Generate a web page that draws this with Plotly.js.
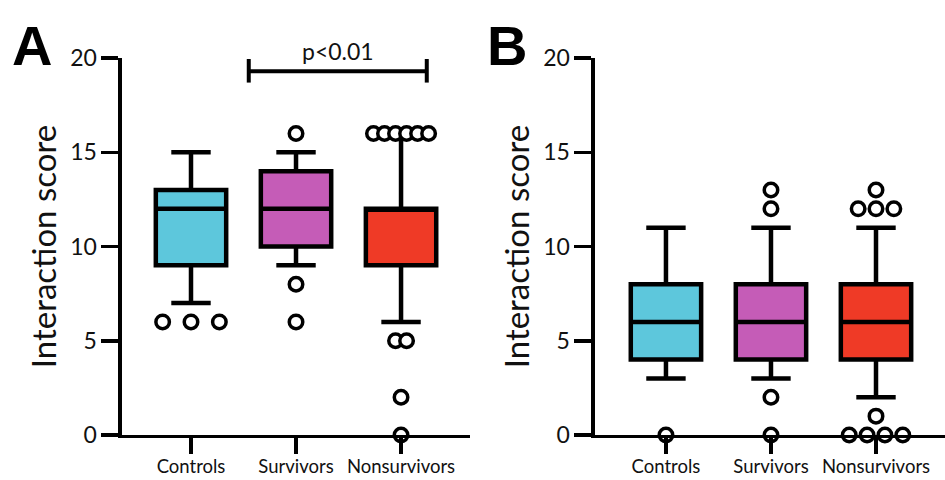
<!DOCTYPE html>
<html>
<head>
<meta charset="utf-8">
<script src="https://cdn.plot.ly/plotly-3.0.1.min.js"></script>
<style>
  html, body { margin: 0; padding: 0; background: #fff; }
  #chart { width: 945px; height: 480px; }
</style>
</head>
<body>
<div id="chart"></div>
<script>
// Group names shown under each panel
const groups = ['Controls', 'Survivors', 'Nonsurvivors'];
const groupColors = ['#5dc7dc', '#c55cb7', '#ef3a26'];

// Panel A: box summaries per group
const aQ1 = [9, 10, 9];
const aMedian = [12, 12, 12];
const aQ3 = [13, 14, 12];
const aLow = [7, 9, 6];
const aHigh = [15, 15, 16];
const aOutliers = [
  [6, 6, 6],
  [16, 8, 6],
  [16, 16, 16, 16, 16, 16, 5, 5, 2, 0]
];

// Panel B: box summaries per group
const bQ1 = [4, 4, 4];
const bMedian = [6, 6, 6];
const bQ3 = [8, 8, 8];
const bLow = [3, 3, 2];
const bHigh = [11, 11, 11];
const bOutliers = [
  [0],
  [13, 12, 2, 0],
  [13, 12, 12, 12, 1, 0, 0, 0, 0]
];

// Horizontal spacing of tied outlier circles (category units)
const aSpread = [0.27, 0.1, 0.105];
const bSpread = [0.17, 0.17, 0.17];

const yTicks = [0, 5, 10, 15, 20];
const yTitle = 'Interaction score';
const pText = 'p<0.01';

const FONT = 'Lato, "Open Sans", sans-serif';

function boxTraces(q1, med, q3, lo, hi, xa, ya) {
  return groups.map((g, i) => ({
    type: 'box',
    name: g,
    x: [i],
    q1: [q1[i]], median: [med[i]], q3: [q3[i]],
    lowerfence: [lo[i]], upperfence: [hi[i]],
    boxpoints: false,
    width: 0.67,
    whiskerwidth: 0.56,
    fillcolor: groupColors[i],
    line: { color: '#000', width: 4.5 },
    xaxis: xa, yaxis: ya,
    showlegend: false,
    hoverinfo: 'skip'
  }));
}

// Spread tied values side by side around the group position
function outlierTrace(outliers, spread, xa, ya) {
  const xs = [], ys = [];
  outliers.forEach((vals, i) => {
    const counts = {};
    vals.forEach(v => { counts[v] = (counts[v] || 0) + 1; });
    const seen = {};
    vals.forEach(v => {
      const n = counts[v];
      const k = seen[v] || 0;
      seen[v] = k + 1;
      xs.push(i + (k - (n - 1) / 2) * spread[i]);
      ys.push(v);
    });
  });
  return {
    type: 'scatter', mode: 'markers',
    x: xs, y: ys,
    marker: { symbol: 'circle', size: 13.5, color: '#fff', line: { color: '#000', width: 3.5 } },
    cliponaxis: false,
    xaxis: xa, yaxis: ya,
    showlegend: false,
    hoverinfo: 'skip'
  };
}

const data = [
  ...boxTraces(aQ1, aMedian, aQ3, aLow, aHigh, 'x', 'y'),
  outlierTrace(aOutliers, aSpread, 'x', 'y'),
  ...boxTraces(bQ1, bMedian, bQ3, bLow, bHigh, 'x2', 'y2'),
  outlierTrace(bOutliers, bSpread, 'x2', 'y2')
];

function xAxis(domain, range, anchor) {
  return {
    domain: domain, range: range, anchor: anchor,
    tickmode: 'array', tickvals: [0, 1, 2], ticktext: groups,
    showline: true, linecolor: '#000', linewidth: 3.5,
    ticks: 'outside', ticklen: 16, tickwidth: 3.5, tickcolor: '#000',
    ticklabelstandoff: -4,
    tickfont: { family: FONT, size: 18.5, color: '#111' },
    showgrid: false, zeroline: false, fixedrange: true
  };
}
function yAxis(anchor) {
  return {
    domain: [0.0938, 0.879], range: [0, 20], anchor: anchor,
    tickmode: 'array', tickvals: yTicks,
    showline: true, linecolor: '#000', linewidth: 3.5,
    ticks: 'outside', ticklen: 17, tickwidth: 3.5, tickcolor: '#000',
    tickfont: { family: FONT, size: 23, color: '#111' },
    title: { text: yTitle, font: { family: FONT, size: 33, color: '#111' }, standoff: 4 },
    showgrid: false, zeroline: false, fixedrange: true
  };
}

const layout = {
  width: 945, height: 480,
  margin: { l: 0, r: 0, t: 0, b: 0 },
  paper_bgcolor: '#fff', plot_bgcolor: '#fff',
  xaxis: xAxis([0.1291, 0.4974], [-0.657, 2.657], 'y'),
  yaxis: yAxis('x'),
  xaxis2: xAxis([0.6296, 1.0], [-0.676, 2.657], 'y2'),
  yaxis2: yAxis('x2'),
  shapes: [
    { type: 'line', xref: 'x', yref: 'y', x0: 0.55, x1: 2.245, y0: 19.3, y1: 19.3, line: { color: '#000', width: 4 } },
    { type: 'line', xref: 'x', yref: 'y', x0: 0.55, x1: 0.55, y0: 18.7, y1: 19.95, line: { color: '#000', width: 4 } },
    { type: 'line', xref: 'x', yref: 'y', x0: 2.245, x1: 2.245, y0: 18.7, y1: 19.95, line: { color: '#000', width: 4 } }
  ],
  annotations: [
    { text: 'A', xref: 'paper', yref: 'paper', x: 0.034, y: 0.905, xanchor: 'center', yanchor: 'middle', showarrow: false,
      font: { family: 'Liberation Sans, Arial, sans-serif', size: 56, color: '#000', weight: 'bold' } },
    { text: 'B', xref: 'paper', yref: 'paper', x: 0.537, y: 0.905, xanchor: 'center', yanchor: 'middle', showarrow: false,
      font: { family: 'Liberation Sans, Arial, sans-serif', size: 56, color: '#000', weight: 'bold' } },
    { text: pText, xref: 'paper', yref: 'paper', x: 0.358, y: 0.893, xanchor: 'center', yanchor: 'middle', showarrow: false,
      font: { family: FONT, size: 23, color: '#111' } }
  ]
};

Plotly.newPlot('chart', data, layout, { displayModeBar: false, staticPlot: true });
</script>
</body>
</html>
